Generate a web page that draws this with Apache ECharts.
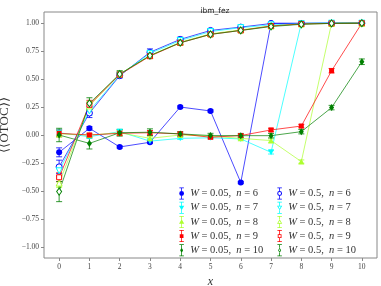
<!DOCTYPE html>
<html><head><meta charset="utf-8">
<script src="https://cdn.jsdelivr.net/npm/echarts@6/dist/echarts.min.js"></script>
<style>html,body{margin:0;padding:0;background:#fff}#c{width:381px;height:286px}</style>
</head><body><div id="c"></div>
<script>
// ---- data ----
const xValues = [0,1,2,3,4,5,6,7,8,9,10];
const xTickMin = 0, xTickMax = 10, xTickStep = 1;
const yTickMin = -1, yTickMax = 1, yTickStep = 0.25;
const nValues = [6,7,8,9,10];
const title = 'ibm_fez';

// W = 0.05 (filled markers)
const W005_n6  = [-0.155, 0.06, -0.107, -0.065, 0.25, 0.215, -0.425, 1.0, 1.0, 1.0, 1.0];
const W005_n7  = [0.02, -0.015, 0.03, -0.055, -0.03, -0.025, -0.035, -0.155, 1.0, 1.0, 1.0];
const W005_n8  = [0.01, 0.0, 0.02, -0.03, 0.0, -0.01, -0.03, -0.05, -0.238, 1.0, 1.0];
const W005_n9  = [0.015, 0.0, 0.015, 0.02, 0.01, -0.02, -0.005, 0.045, 0.08, 0.575, 1.0];
const W005_n10 = [0.0, -0.075, 0.02, 0.025, 0.01, -0.005, -0.006, -0.006, 0.03, 0.245, 0.655];
const W005_n6_err  = [0.04, 0.015, 0.01, 0.01, 0.01, 0.01, 0.01, 0.005, 0.005, 0.005, 0.005];
const W005_n7_err  = [0.03, 0.015, 0.02, 0.01, 0.01, 0.01, 0.01, 0.015, 0.005, 0.005, 0.005];
const W005_n8_err  = [0.03, 0.015, 0.02, 0.015, 0.015, 0.01, 0.01, 0.015, 0.015, 0.005, 0.005];
const W005_n9_err  = [0.03, 0.015, 0.02, 0.02, 0.015, 0.015, 0.01, 0.015, 0.015, 0.02, 0.005];
const W005_n10_err = [0.06, 0.05, 0.03, 0.03, 0.02, 0.02, 0.02, 0.02, 0.02, 0.02, 0.025];

// W = 0.5 (open markers)
const W05_n6  = [-0.285, 0.196, 0.53, 0.74, 0.855, 0.935, 0.965, 0.997, 0.997, 1.0, 1.0];
const W05_n7  = [-0.32, 0.215, 0.535, 0.73, 0.845, 0.925, 0.96, 0.985, 0.995, 1.0, 1.0];
const W05_n8  = [-0.43, 0.26, 0.545, 0.71, 0.83, 0.905, 0.94, 0.975, 0.993, 0.998, 1.0];
const W05_n9  = [-0.378, 0.27, 0.54, 0.705, 0.825, 0.9, 0.935, 0.975, 0.993, 0.998, 1.0];
const W05_n10 = [-0.506, 0.283, 0.545, 0.71, 0.825, 0.9, 0.935, 0.97, 0.99, 0.998, 1.0];
const W05_n6_err  = [0.06, 0.04, 0.02, 0.03, 0.02, 0.015, 0.01, 0.005, 0.005, 0.003, 0.003];
const W05_n7_err  = [0.05, 0.04, 0.02, 0.025, 0.02, 0.015, 0.01, 0.01, 0.005, 0.003, 0.003];
const W05_n8_err  = [0.04, 0.04, 0.025, 0.02, 0.02, 0.015, 0.01, 0.01, 0.005, 0.003, 0.003];
const W05_n9_err  = [0.04, 0.04, 0.025, 0.02, 0.02, 0.015, 0.01, 0.01, 0.005, 0.003, 0.003];
const W05_n10_err = [0.09, 0.05, 0.03, 0.02, 0.02, 0.015, 0.015, 0.01, 0.005, 0.003, 0.003];

const filledSets = [W005_n6, W005_n7, W005_n8, W005_n9, W005_n10];
const filledErrs = [W005_n6_err, W005_n7_err, W005_n8_err, W005_n9_err, W005_n10_err];
const openSets = [W05_n6, W05_n7, W05_n8, W05_n9, W05_n10];
const openErrs = [W05_n6_err, W05_n7_err, W05_n8_err, W05_n9_err, W05_n10_err];

// ---- style / layout ----
const colors = ['#0000ff', '#00ffff', '#adff2f', '#ff0000', '#008000'];
const shapes = ['circle', 'tdown', 'tup', 'rect', 'diamond'];
const serif = 'Liberation Serif';
const xMin = -0.5, xMax = 10.5, yMin = -1.1, yMax = 1.1;
const G = { left: 44, right: 4, top: 12, bottom: 28, w: 381, h: 286 };
const plotW = G.w - G.left - G.right, plotH = G.h - G.top - G.bottom;
const padX = (xTickMin - xMin) / (xMax - xMin) * plotW;
const padY = (yMax - yTickMax) / (yMax - yMin) * plotH;

function echartsSymbol(s) {
  if (s === 'tdown' || s === 'tup') return 'triangle';
  return s;
}
function iconPath(shape, open) {
  const caps = 'M2 0H8V1H2Z M2 15H8V16H2Z ';
  let outer, inner, top, bot;
  if (shape === 'circle') { outer = 'M1.8 8A3.2 3.2 0 1 1 8.2 8A3.2 3.2 0 1 1 1.8 8Z'; inner = 'M3.1 8A1.9 1.9 0 1 0 6.9 8A1.9 1.9 0 1 0 3.1 8Z'; top = 4.8; bot = 11.2; }
  else if (shape === 'tdown') { outer = 'M1.5 5.5H8.5L5 11.5Z'; inner = 'M3.3 6.5L5 9.5L6.7 6.5Z'; top = 5.5; bot = 11.5; }
  else if (shape === 'tup') { outer = 'M5 4.5L8.5 10.5H1.5Z'; inner = 'M5 6.5L3.3 9.5H6.7Z'; top = 4.5; bot = 10.5; }
  else if (shape === 'rect') { outer = 'M2.5 5.5H7.5V10.5H2.5Z'; inner = 'M3.6 6.6V9.4H6.4V6.6Z'; top = 5.5; bot = 10.5; }
  else { outer = 'M5 4.5L7 8L5 11.5L3 8Z'; inner = 'M5 6.3L4.1 8L5 9.7L5.9 8Z'; top = 4.5; bot = 11.5; }
  const bar = open ? `M4.5 1H5.5V${top}H4.5Z M4.5 ${bot}H5.5V15H4.5Z ` : 'M4.5 1H5.5V15H4.5Z ';
  return 'path://' + caps + bar + outer + (open ? ' ' + inner : '');
}

function errSeries(name, vals, errs, color) {
  return {
    name: name, type: 'custom', z: 2, silent: true, xAxisIndex: 0, yAxisIndex: 0, clip: false,
    data: xValues.map((x, i) => [x, vals[i] - errs[i], vals[i] + errs[i]]),
    renderItem: function (params, api) {
      const x = api.value(0);
      const p1 = api.coord([x, api.value(1)]);
      const p2 = api.coord([x, api.value(2)]);
      const hw = 3;
      const st = { stroke: color, lineWidth: 1, opacity: 0.8 };
      return { type: 'group', children: [
        { type: 'line', shape: { x1: p1[0], y1: p1[1], x2: p2[0], y2: p2[1] }, style: st },
        { type: 'line', shape: { x1: p1[0] - hw, y1: p1[1], x2: p1[0] + hw, y2: p1[1] }, style: st },
        { type: 'line', shape: { x1: p2[0] - hw, y1: p2[1], x2: p2[0] + hw, y2: p2[1] }, style: st }
      ]};
    }
  };
}

const series = [];
const legendFilled = [], legendOpen = [];
const labelMap = {};
function symSize(s) { return s === 'diamond' ? [5, 7] : (s === 'rect' ? 5 : 6); }
nValues.forEach((n, k) => {
  const name = 'W005_n' + n;
  labelMap[name] = '{i|W} = 0.05,  {i|n} = ' + n;
  series.push(errSeries(name, filledSets[k], filledErrs[k], colors[k]));
  series.push({
    name: name, type: 'line', z: 3, clip: false, xAxisIndex: 0, yAxisIndex: 0,
    data: xValues.map((x, i) => [x, filledSets[k][i]]),
    symbol: echartsSymbol(shapes[k]),
    symbolRotate: shapes[k] === 'tdown' ? 180 : 0,
    symbolSize: symSize(shapes[k]),
    itemStyle: { color: colors[k], borderWidth: 0 },
    lineStyle: { color: colors[k], width: 1, opacity: 0.7 }
  });
  legendFilled.push({ name: name, icon: iconPath(shapes[k], false), itemStyle: { color: colors[k], borderWidth: 0 } });
});
nValues.forEach((n, k) => {
  const name = 'W05_n' + n;
  labelMap[name] = '{i|W} = 0.5,  {i|n} = ' + n;
  series.push(errSeries(name, openSets[k], openErrs[k], colors[k]));
  series.push({
    name: name, type: 'line', z: 4, clip: false, xAxisIndex: 0, yAxisIndex: 0,
    data: xValues.map((x, i) => [x, openSets[k][i]]),
    symbol: echartsSymbol(shapes[k]),
    symbolRotate: shapes[k] === 'tdown' ? 180 : 0,
    symbolSize: symSize(shapes[k]),
    itemStyle: { color: '#ffffff', borderColor: colors[k], borderWidth: 1 },
    lineStyle: { color: colors[k], width: 1, opacity: 0.7 }
  });
  legendOpen.push({ name: name, icon: iconPath(shapes[k], true), itemStyle: { color: colors[k], borderWidth: 0 } });
});

const legendText = {
  fontFamily: serif, fontSize: 10.5, lineHeight: 12, color: '#333',
  rich: { i: { fontFamily: serif, fontStyle: 'italic', fontSize: 10.5, lineHeight: 12, color: '#333' } }
};
const legendCommon = {
  orient: 'vertical', itemWidth: 7, itemHeight: 12, itemGap: 2.2, padding: 0,
  selectedMode: false, textStyle: legendText,
  formatter: name => labelMap[name]
};

const fmtY = v => (v < 0 ? '\u2212' : '') + Math.abs(v).toFixed(2);
const hidden = { axisLine: { show: false, onZero: false }, axisTick: { show: false }, axisLabel: { show: false }, splitLine: { show: false } };

const chart = echarts.init(document.getElementById('c'), null, { renderer: 'canvas' });
chart.setOption({
  animation: false,
  backgroundColor: '#ffffff',
  title: { text: title, left: 210, top: 2, textAlign: 'center',
    textStyle: { fontFamily: 'DejaVu Sans', fontSize: 7.5, fontWeight: 'normal', color: '#222' } },
  grid: [
    { left: G.left, right: G.right, top: G.top, bottom: G.bottom, show: true, borderColor: '#888', borderWidth: 1,
      backgroundColor: 'transparent', containLabel: false, outerBoundsMode: 'none' },
    { left: G.left + padX, right: G.right + padX, top: G.top + padY, bottom: G.bottom + padY, show: false,
      containLabel: false, outerBoundsMode: 'none' }
  ],
  legend: [
    Object.assign({ left: 179, top: 187.5, data: legendFilled }, legendCommon),
    Object.assign({ left: 277, top: 187.5, data: legendOpen }, legendCommon)
  ],
  xAxis: [
    Object.assign({ type: 'value', gridIndex: 0, min: xMin, max: xMax }, hidden),
    {
      type: 'value', gridIndex: 1, min: xTickMin, max: xTickMax, interval: xTickStep, offset: padY,
      position: 'bottom',
      name: 'x', nameLocation: 'middle', nameGap: 11,
      nameTextStyle: { fontFamily: serif, fontStyle: 'italic', fontSize: 12, color: '#333' },
      axisLine: { show: false, onZero: false }, splitLine: { show: false },
      axisTick: { show: true, length: 3, lineStyle: { color: '#888' } },
      axisLabel: { fontFamily: serif, fontSize: 7.5, color: '#444', margin: 5, showMinLabel: true, showMaxLabel: true }
    }
  ],
  yAxis: [
    Object.assign({ type: 'value', gridIndex: 0, min: yMin, max: yMax }, hidden),
    {
      type: 'value', gridIndex: 1, min: yTickMin, max: yTickMax, interval: yTickStep, offset: padX,
      position: 'left',
      name: '\u27E8\u27E8OTOC\u27E9\u27E9', nameLocation: 'middle', nameGap: 32,
      nameTextStyle: { fontFamily: serif, fontSize: 13, color: '#333', padding: [0, 0, 0, 20] },
      axisLine: { show: false, onZero: false }, splitLine: { show: false },
      axisTick: { show: true, length: 3, lineStyle: { color: '#888' } },
      axisLabel: { fontFamily: serif, fontSize: 7.5, color: '#444', margin: 5, formatter: fmtY, showMinLabel: true, showMaxLabel: true }
    }
  ],
  series: series
});
</script></body></html>
